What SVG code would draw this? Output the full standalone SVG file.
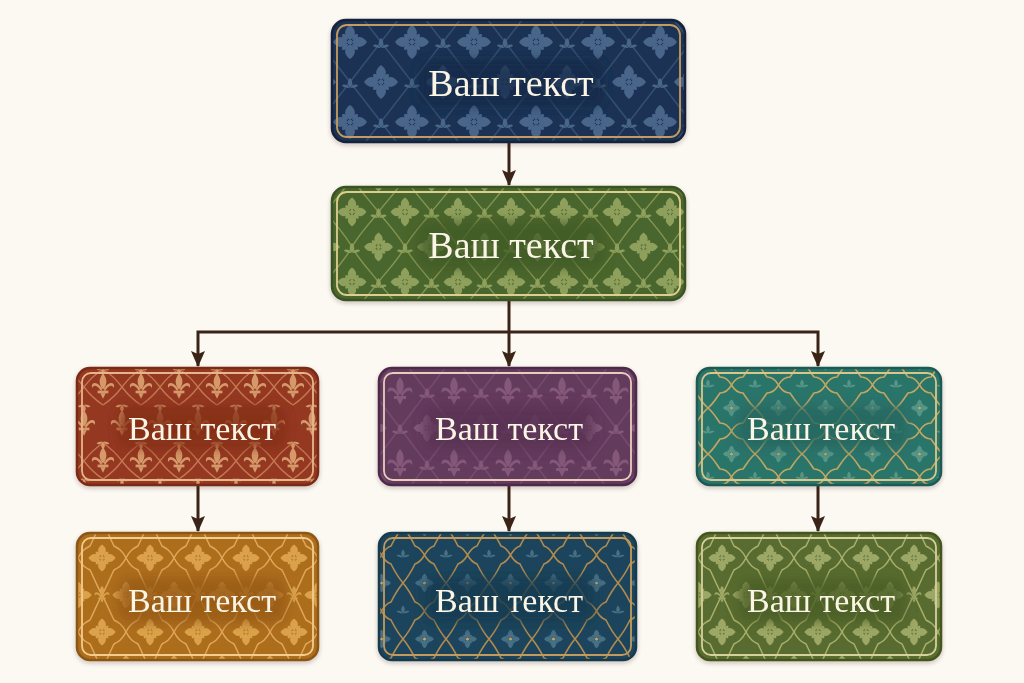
<svg xmlns="http://www.w3.org/2000/svg" width="1024" height="683" viewBox="0 0 1024 683">
<style>
.lbl{font-family:"Liberation Serif","DejaVu Serif",serif;fill:#fbf5e6;text-anchor:middle}
.big{font-size:38px}
.sm{font-size:34px}
.inner{fill:none;stroke-width:1.8}
.outer{stroke-width:2.5}
.conn{fill:none;stroke:#3a2418;stroke-width:3}
</style>
<defs>
<g id="petal"><path d="M0,-2 C6,-6 7,-12 0,-17 C-7,-12 -6,-6 0,-2Z"/></g>
<g id="leaf"><path d="M0,-3 C3,-6 3,-9 0,-11 C-3,-9 -3,-6 0,-3Z"/></g>
<g id="flower">
<use href="#petal"/><use href="#petal" transform="rotate(90)"/><use href="#petal" transform="rotate(180)"/><use href="#petal" transform="rotate(270)"/>
<use href="#leaf" transform="rotate(45)"/><use href="#leaf" transform="rotate(135)"/><use href="#leaf" transform="rotate(225)"/><use href="#leaf" transform="rotate(315)"/>
<circle r="2.5"/>
</g>
<g id="sprig">
<path d="M0,-7 C3,-4 3,0 0,3 C-3,0 -3,-4 0,-7Z"/>
<path d="M1,2 C4,-1 7,-1 8,1 C6,2 4,3 1,3Z"/>
<path d="M-1,2 C-4,-1 -7,-1 -8,1 C-6,2 -4,3 -1,3Z"/>
</g>
<g id="fleur">
<path d="M0,-15 C5,-9 5,-3 0,3 C-5,-3 -5,-9 0,-15Z"/>
<path d="M1,2 C6,-7 14,-6 12,1 C10,-3 6,-2 2,5Z"/>
<path d="M-1,2 C-6,-7 -14,-6 -12,1 C-10,-3 -6,-2 -2,5Z"/>
<rect x="-6" y="4" width="12" height="3"/>
<path d="M-3,7 L0,13 L3,7Z"/>
</g>
<filter id="soft" x="-20%" y="-50%" width="140%" height="200%"><feGaussianBlur stdDeviation="6"/></filter>
<filter id="shadow" x="-5%" y="-5%" width="110%" height="115%"><feDropShadow dx="0" dy="2" stdDeviation="2" flood-color="#3a2418" flood-opacity="0.25"/></filter>
<marker id="arr" viewBox="0 0 16 14" refX="15" refY="7" markerWidth="16" markerHeight="14" markerUnits="userSpaceOnUse" orient="auto-start-reverse">
<path d="M0,0 L16,7 L0,14 L3,7Z" fill="#3a2418"/>
</marker>

<pattern id="pNavy" patternUnits="userSpaceOnUse" x="350" y="42" width="62" height="80">
<rect width="62" height="80" fill="#1b3254"/>
<path d="M31,0 L62,40 L31,80 L0,40Z" fill="none" stroke="#344f72" stroke-width="1.5"/>
<g fill="#48668a">
<use href="#flower"/><use href="#flower" x="62"/><use href="#flower" y="80"/><use href="#flower" x="62" y="80"/><use href="#flower" x="31" y="40"/>
<use href="#sprig" x="31" y="3"/><use href="#sprig" x="31" y="83"/><use href="#sprig" x="0" y="43"/><use href="#sprig" x="62" y="43"/>
</g>
</pattern>
<pattern id="pGreen" patternUnits="userSpaceOnUse" x="352" y="212" width="53" height="70">
<rect width="53" height="70" fill="#4a662d"/>
<path d="M26.5,0 C34,10 46,22 53,35 C46,48 34,60 26.5,70 C19,60 7,48 0,35 C7,22 19,10 26.5,0Z" fill="none" stroke="#869652" stroke-width="1.4"/>
<g fill="#8fa05c">
<g transform="scale(0.85)"><use href="#flower"/><use href="#flower" x="62.35"/><use href="#flower" y="82.35"/><use href="#flower" x="62.35" y="82.35"/><use href="#flower" x="31.18" y="41.18"/></g>
<use href="#sprig" x="26.5" y="3"/><use href="#sprig" x="26.5" y="73"/><use href="#sprig" x="0" y="38"/><use href="#sprig" x="53" y="38"/>
</g>
</pattern>
<pattern id="pRed" patternUnits="userSpaceOnUse" x="103" y="387" width="38" height="74">
<rect width="38" height="74" fill="#943822"/>
<path d="M19,0 C25,8 32,14 38,18 M19,0 C13,8 6,14 0,18 M19,74 C25,66 32,60 38,56 M19,74 C13,66 6,60 0,56" fill="none" stroke="#c47850" stroke-width="1.4"/>
<g fill="#d69a6a">
<use href="#fleur" transform="scale(0.9)"/><use href="#fleur" transform="translate(38,0) scale(0.9)"/><use href="#fleur" transform="translate(0,74) scale(0.9)"/><use href="#fleur" transform="translate(38,74) scale(0.9)"/><use href="#fleur" transform="translate(19,37) scale(0.9)"/>
<use href="#sprig" transform="translate(19,20) rotate(180) scale(0.8)"/><use href="#sprig" transform="translate(0,57) rotate(180) scale(0.8)"/><use href="#sprig" transform="translate(38,57) rotate(180) scale(0.8)"/>
</g>
</pattern>
<pattern id="pPurple" patternUnits="userSpaceOnUse" x="400" y="392" width="54" height="72">
<rect width="54" height="72" fill="#643a5d"/>
<path d="M27,0 L54,36 L27,72 L0,36Z" fill="none" stroke="#774b70" stroke-width="1.4"/>
<g fill="#835879">
<use href="#fleur"/><use href="#fleur" x="54"/><use href="#fleur" y="72"/><use href="#fleur" x="54" y="72"/>
<use href="#flower" transform="translate(27,36) scale(0.8)"/>
<use href="#sprig" x="27" y="3"/><use href="#sprig" x="27" y="75"/><use href="#sprig" x="0" y="39"/><use href="#sprig" x="54" y="39"/>
</g>
</pattern>
<pattern id="pTeal" patternUnits="userSpaceOnUse" x="708" y="385" width="47" height="46">
<rect width="47" height="46" fill="#2c746b"/>
<path d="M23.5,0 C27,6 31,8 35,8 C38,12 41,18 47,23 C41,28 38,34 35,38 C31,38 27,40 23.5,46 C20,40 16,38 12,38 C9,34 6,28 0,23 C6,18 9,12 12,8 C16,8 20,6 23.5,0Z" fill="none" stroke="#c4a660" stroke-width="1.6"/>
<g fill="#579688">
<use href="#flower" transform="translate(23.5,23) scale(0.5)"/>
<use href="#sprig" transform="scale(0.8)"/><use href="#sprig" transform="translate(47,0) scale(0.8)"/><use href="#sprig" transform="translate(0,46) scale(0.8)"/><use href="#sprig" transform="translate(47,46) scale(0.8)"/>
</g>
<circle cx="23.5" cy="23" r="1.5" fill="#c4a660"/>
</pattern>
<pattern id="pOrange" patternUnits="userSpaceOnUse" x="102" y="558" width="48" height="74">
<rect width="48" height="74" fill="#ad6e1e"/>
<path d="M24,0 C28,8 32,10 36,12 C40,20 44,30 48,37 C44,44 40,54 36,62 C32,64 28,66 24,74 C20,66 16,64 12,62 C8,54 4,44 0,37 C4,30 8,20 12,12 C16,10 20,8 24,0Z" fill="none" stroke="#dfa85a" stroke-width="1.5"/>
<g fill="#dca24c">
<use href="#flower" transform="scale(0.8)"/><use href="#flower" transform="translate(48,0) scale(0.8)"/><use href="#flower" transform="translate(0,74) scale(0.8)"/><use href="#flower" transform="translate(48,74) scale(0.8)"/><use href="#flower" transform="translate(24,37) scale(0.8)"/>
<use href="#fleur" transform="translate(0,37) scale(0.6)"/><use href="#fleur" transform="translate(48,37) scale(0.6)"/>
</g>
</pattern>
<pattern id="pBlue" patternUnits="userSpaceOnUse" x="403" y="555" width="43" height="56">
<rect width="43" height="56" fill="#1c455d"/>
<path d="M21.5,0 C25,6 28,8 31,9 C34,15 38,22 43,28 C38,34 34,41 31,47 C28,48 25,50 21.5,56 C18,50 15,48 12,47 C9,41 5,34 0,28 C5,22 9,15 12,9 C15,8 18,6 21.5,0Z" fill="none" stroke="#b28a4c" stroke-width="1.6"/>
<g fill="#476f84">
<use href="#flower" transform="translate(21.5,28) scale(0.55)"/>
<use href="#sprig" transform="scale(0.8)"/><use href="#sprig" transform="translate(43,0) scale(0.8)"/><use href="#sprig" transform="translate(0,56) scale(0.8)"/><use href="#sprig" transform="translate(43,56) scale(0.8)"/>
</g>
<circle cx="21.5" cy="28" r="1.5" fill="#c8a262"/>
</pattern>
<pattern id="pOlive" patternUnits="userSpaceOnUse" x="722" y="558" width="48" height="74">
<rect width="48" height="74" fill="#586c30"/>
<path d="M24,0 C28,8 32,10 36,12 C40,20 44,30 48,37 C44,44 40,54 36,62 C32,64 28,66 24,74 C20,66 16,64 12,62 C8,54 4,44 0,37 C4,30 8,20 12,12 C16,10 20,8 24,0Z" fill="none" stroke="#aab06c" stroke-width="1.5"/>
<g fill="#9ea866">
<use href="#flower" transform="scale(0.8)"/><use href="#flower" transform="translate(48,0) scale(0.8)"/><use href="#flower" transform="translate(0,74) scale(0.8)"/><use href="#flower" transform="translate(48,74) scale(0.8)"/><use href="#flower" transform="translate(24,37) scale(0.8)"/>
<use href="#fleur" transform="translate(0,37) scale(0.6)"/><use href="#fleur" transform="translate(48,37) scale(0.6)"/>
</g>
</pattern>
</defs>

<rect width="1024" height="683" fill="#fcf9f2"/>

<g id="connectors">
<path class="conn" d="M509,143 V185" marker-end="url(#arr)"/>
<path class="conn" d="M509,301 V366" marker-end="url(#arr)"/>
<path class="conn" d="M198,366 V332 H818 V366" marker-end="url(#arr)" marker-start="url(#arr)"/>
<path class="conn" d="M198,486 V531" marker-end="url(#arr)"/>
<path class="conn" d="M509,486 V531" marker-end="url(#arr)"/>
<path class="conn" d="M818,486 V531" marker-end="url(#arr)"/>
</g>

<g id="n-top" filter="url(#shadow)">
<rect class="outer" x="332" y="20" width="353" height="122" rx="14" fill="url(#pNavy)" stroke="#15243a"/>
<rect class="inner" x="337" y="25" width="343" height="112" rx="10" stroke="#c69b5e"/>
<rect x="418" y="60" width="186" height="46" rx="10" fill="#162b48" opacity="0.75" filter="url(#soft)"/>
<text class="lbl big" x="511" y="96">Ваш текст</text>
</g>

<g id="n-green" filter="url(#shadow)">
<rect class="outer" x="332" y="187" width="353" height="113" rx="14" fill="url(#pGreen)" stroke="#3a5322"/>
<rect class="inner" x="337" y="192" width="343" height="103" rx="10" stroke="#dccf8e"/>
<rect x="418" y="222" width="186" height="46" rx="10" fill="#405a25" opacity="0.75" filter="url(#soft)"/>
<text class="lbl big" x="511" y="258">Ваш текст</text>
</g>

<g id="n-red" filter="url(#shadow)">
<rect class="outer" x="77" y="368" width="241" height="117" rx="13" fill="url(#pRed)" stroke="#7a2a16"/>
<rect class="inner" x="82" y="373" width="231" height="107" rx="9" stroke="#e6b58c"/>
<rect x="118" y="406" width="168" height="42" rx="10" fill="#842e19" opacity="0.8" filter="url(#soft)"/>
<text class="lbl sm" x="202" y="440">Ваш текст</text>
</g>

<g id="n-purple" filter="url(#shadow)">
<rect class="outer" x="379" y="368" width="257" height="117" rx="13" fill="url(#pPurple)" stroke="#4e2a48"/>
<rect class="inner" x="384" y="373" width="247" height="107" rx="9" stroke="#e8cdbd"/>
<rect x="425" y="406" width="168" height="42" rx="10" fill="#583052" opacity="0.8" filter="url(#soft)"/>
<text class="lbl sm" x="509" y="440">Ваш текст</text>
</g>

<g id="n-teal" filter="url(#shadow)">
<rect class="outer" x="697" y="368" width="244" height="117" rx="13" fill="url(#pTeal)" stroke="#1f5a52"/>
<rect class="inner" x="702" y="373" width="234" height="107" rx="9" stroke="#d9c68c"/>
<rect x="738" y="406" width="168" height="42" rx="10" fill="#256860" opacity="0.8" filter="url(#soft)"/>
<text class="lbl sm" x="821" y="440">Ваш текст</text>
</g>

<g id="n-orange" filter="url(#shadow)">
<rect class="outer" x="77" y="533" width="241" height="127" rx="13" fill="url(#pOrange)" stroke="#8c5614"/>
<rect class="inner" x="82" y="538" width="231" height="117" rx="9" stroke="#f2cc8e"/>
<rect x="118" y="578" width="168" height="44" rx="10" fill="#975a14" opacity="0.8" filter="url(#soft)"/>
<text class="lbl sm" x="202" y="612">Ваш текст</text>
</g>

<g id="n-blue" filter="url(#shadow)">
<rect class="outer" x="379" y="533" width="257" height="127" rx="13" fill="url(#pBlue)" stroke="#163a4e"/>
<rect class="inner" x="384" y="538" width="247" height="117" rx="9" stroke="#c29a5c"/>
<rect x="425" y="578" width="168" height="44" rx="10" fill="#163b50" opacity="0.8" filter="url(#soft)"/>
<text class="lbl sm" x="509" y="612">Ваш текст</text>
</g>

<g id="n-olive" filter="url(#shadow)">
<rect class="outer" x="697" y="533" width="244" height="127" rx="13" fill="url(#pOlive)" stroke="#45561f"/>
<rect class="inner" x="702" y="538" width="234" height="117" rx="9" stroke="#d6d09a"/>
<rect x="738" y="578" width="168" height="44" rx="10" fill="#4b5e27" opacity="0.8" filter="url(#soft)"/>
<text class="lbl sm" x="821" y="612">Ваш текст</text>
</g>
</svg>
